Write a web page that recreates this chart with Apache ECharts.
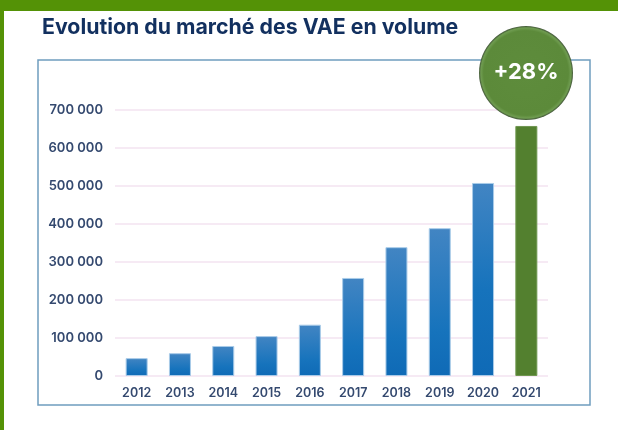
<!DOCTYPE html>
<html>
<head>
<meta charset="utf-8">
<style>
  html, body { margin: 0; padding: 0; background: #fff; }
  #chart { width: 618px; height: 430px; }
</style>
<script src="https://cdn.jsdelivr.net/npm/echarts@6/dist/echarts.min.js"></script>
</head>
<body>
<div id="chart"></div>
<script>
var years = ['2012', '2013', '2014', '2015', '2016', '2017', '2018', '2019', '2020', '2021']
var volumes = [47000, 60000, 79000, 105000, 135000, 258000, 339000, 389000, 508000, 658000]
var bubbleText = '+28%'
var titleText = 'Evolution du marché des VAE en volume'

var navy = '#12305f'
var labelColor = '#34496f'
var green = '#53802f'

var chart = echarts.init(document.getElementById('chart'), null, { renderer: 'canvas' })

// the fade takes a smaller share of the tall bars
function barColor(i) {
  if (i === years.length - 1) return green
  var stop = Math.min(0.7, 280000 / volumes[i])
  return new echarts.graphic.LinearGradient(0, 0, 0, 1, [
    { offset: 0, color: '#4285c3' },
    { offset: stop, color: '#1673bc' },
    { offset: 1, color: '#0f6ab6' }
  ])
}

chart.setOption({
  animation: false,
  backgroundColor: '#fff',
  textStyle: { fontFamily: 'Inter' },
  title: {
    text: titleText,
    left: 37,
    top: 12,
    textStyle: { color: navy, fontSize: 21.3, fontWeight: 'bold', fontFamily: 'Inter' }
  },
  grid: { left: 115, right: 70, top: 110, bottom: 54 },
  xAxis: {
    type: 'category',
    data: years,
    axisLine: { show: false },
    axisTick: { show: false },
    axisLabel: { color: labelColor, fontSize: 12.5, fontWeight: 600, margin: 11 }
  },
  yAxis: {
    type: 'value',
    min: 0,
    max: 700000,
    interval: 100000,
    axisLine: { show: false },
    axisTick: { show: false },
    axisLabel: {
      color: labelColor,
      fontSize: 13,
      fontWeight: 600,
      margin: 12,
      formatter: function (v) {
        return String(v).replace(/\B(?=(\d{3})+$)/g, ' ')
      }
    },
    splitLine: { lineStyle: { color: '#f6eaf4', width: 2 } }
  },
  series: [{
    type: 'bar',
    barWidth: 22,
    data: volumes.map(function (v, i) {
      return {
        value: v,
        itemStyle: {
          color: barColor(i),
          borderColor: i === years.length - 1 ? '#6f9650' : '#a9cbe8',
          borderWidth: 1
        }
      }
    })
  }],
  graphic: [
    // green page edge
    { type: 'rect', z: 1, shape: { x: 0, y: 0, width: 618, height: 11 }, style: { fill: '#549206' } },
    { type: 'rect', z: 1, shape: { x: 0, y: 0, width: 4, height: 430 }, style: { fill: '#549206' } },
    // frame
    {
      type: 'rect', z: 1,
      shape: { x: 38, y: 60, width: 552, height: 345 },
      style: { fill: 'transparent', stroke: '#6f9dbf', lineWidth: 1.5 }
    },
    // bubble over the 2021 bar
    {
      type: 'circle', z: 20,
      shape: { cx: 526, cy: 73, r: 47 },
      style: {
        fill: new echarts.graphic.RadialGradient(0.5, 0.5, 0.5, [
          { offset: 0, color: '#5e8c3c' },
          { offset: 0.9, color: '#5c8a3a' },
          { offset: 0.96, color: '#6f9c50' },
          { offset: 1, color: '#3f5236' }
        ])
      }
    },
    {
      type: 'text', z: 21,
      style: {
        x: 526, y: 72,
        text: bubbleText,
        fill: '#fff',
        font: '700 22px Inter',
        align: 'center',
        verticalAlign: 'middle'
      }
    }
  ]
})
</script>
</body>
</html>
